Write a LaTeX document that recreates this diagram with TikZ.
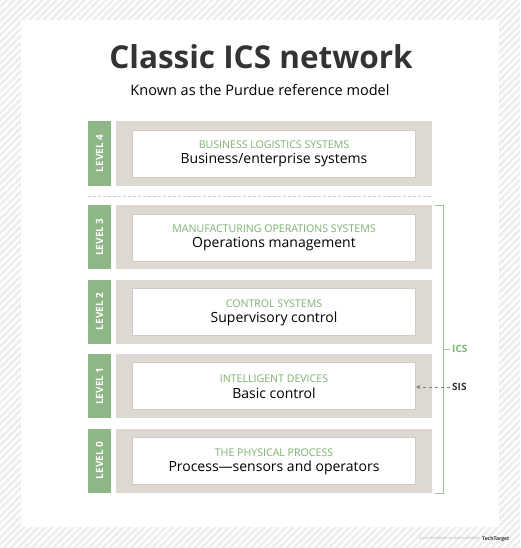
\documentclass[tikz,border=0pt]{standalone}
\usepackage{fontspec}
\setmainfont{Open Sans}
\usetikzlibrary{arrows.meta, patterns.meta}
\definecolor{tabgreen}{RGB}{141, 183, 133}
\definecolor{labelgreen}{RGB}{124, 178, 112}
\definecolor{bracketgreen}{RGB}{160, 198, 150}
\definecolor{boxgray}{RGB}{221, 217, 210}
\definecolor{rimgray}{RGB}{208, 203, 195}
\definecolor{inkgray}{RGB}{51, 51, 51}
\definecolor{hatchgray}{RGB}{238, 238, 238}

\begin{document}
\begin{tikzpicture}[
    x=1pt, y=-1pt,
    % Style for the green level tabs
    leveltab/.style={rectangle, fill=tabgreen, draw=none,
        minimum width=23pt, minimum height=64pt, inner sep=0pt},
    tabtext/.style={rotate=90, text=white, font=\fontsize{10}{12}\selectfont\bfseries},
    graybox/.style={rectangle, fill=boxgray, draw=none,
        minimum width=316pt, minimum height=64pt, inner sep=0pt},
    innerbox/.style={rectangle, fill=white, draw=rimgray, line width=0.8pt,
        minimum width=283pt, minimum height=47pt, inner sep=0pt},
    kind/.style={text=labelgreen, font=\fontsize{10.6}{12}\selectfont},
    role/.style={text=black, font=\fontsize{14}{16}\selectfont}
]

    % Background hatch and white panel
    \fill[hatchgray] (0,0) rectangle (520,548);
    \fill[pattern={Lines[angle=45, distance=5pt, line width=2pt]}, pattern color=white]
        (0,0) rectangle (520,548);
    \fill[white] (21,20) rectangle (499,527);
    \useasboundingbox (0,0) rectangle (520,548);

    % Title
    \node[text=inkgray, font=\fontsize{31.5}{36}\selectfont\bfseries] (title) at (261,57) {Classic ICS network};
    \node[text=black, font=\fontsize{14.5}{17}\selectfont] (subtitle) at (260,90) {Known as the Purdue reference model};

    % Level 4
    \node[leveltab] (tab4) at (99.5,153.5) {};
    \node[tabtext] at (tab4) {LEVEL 4};
    \node[graybox] (box4) at (274,153.5) {};
    \node[innerbox] (in4) at (274,153.5) {};
    \node[kind] (kind4) at (274,145) {BUSINESS LOGISTICS SYSTEMS};
    \node[role] (role4) at (274,160) {Business/enterprise systems};

    % Divider
    \coordinate (div left)  at (88,196);
    \coordinate (div right) at (432,196);
    \draw[rimgray, dash pattern=on 3pt off 2pt, line width=0.7pt] (div left) -- (div right);

    % Level 3
    \node[leveltab] (tab3) at (99.5,237) {};
    \node[tabtext] at (tab3) {LEVEL 3};
    \node[graybox] (box3) at (274,237) {};
    \node[innerbox] (in3) at (274,237.5) {};
    \node[kind] (kind3) at (274,229) {MANUFACTURING OPERATIONS SYSTEMS};
    \node[role] (role3) at (274,244) {Operations management};

    % Level 2
    \node[leveltab] (tab2) at (99.5,311.5) {};
    \node[tabtext] at (tab2) {LEVEL 2};
    \node[graybox] (box2) at (274,311.5) {};
    \node[innerbox] (in2) at (274,312) {};
    \node[kind] (kind2) at (274,304) {CONTROL SYSTEMS};
    \node[role] (role2) at (274,319) {Supervisory control};

    % Level 1
    \node[leveltab] (tab1) at (99.5,386) {};
    \node[tabtext] at (tab1) {LEVEL 1};
    \node[graybox] (box1) at (274,386) {};
    \node[innerbox] (in1) at (274,386) {};
    \node[kind] (kind1) at (274,378.5) {INTELLIGENT DEVICES};
    \node[role] (role1) at (274,393) {Basic control};

    % Level 0
    \node[leveltab] (tab0) at (99.5,460.5) {};
    \node[tabtext] at (tab0) {LEVEL 0};
    \node[graybox] (box0) at (274,460.5) {};
    \node[innerbox] (in0) at (274,460.5) {};
    \node[kind] (kind0) at (274,452.5) {THE PHYSICAL PROCESS};
    \node[role] (role0) at (274,467.5) {Process---sensors and operators};

    % ICS bracket
    \coordinate (ics top)    at (443,205);
    \coordinate (ics bottom) at (443,493);
    \coordinate (ics mid)    at (443,349);
    \draw[bracketgreen, line width=1pt] ([xshift=-8pt]ics top) -- (ics top) -- (ics bottom) -- ([xshift=-8pt]ics bottom);
    \node[anchor=west, text=labelgreen, font=\fontsize{10}{12}\selectfont\bfseries, inner sep=0pt] (ics) at (452,349) {ICS};
    \draw[bracketgreen, line width=1pt] (ics mid) -- ([xshift=-2pt]ics.west);

    % SIS pointer
    \node[anchor=west, text=inkgray, font=\fontsize{10}{12}\selectfont\bfseries, inner sep=0pt] (sis) at (452,387) {SIS};
    \draw[gray, dashed, line width=0.7pt, -{Stealth[length=4.5pt, width=4pt]}] ([xshift=-2pt]sis.west) -- (in1.east |- sis.west);

    % Footer
    \node[anchor=east, text=gray!70, font=\fontsize{3}{4}\selectfont, inner sep=0pt] (rights) at (480,538) {\textcopyright 2018 TECHTARGET. ALL RIGHTS RESERVED};
    \node[anchor=west, text=inkgray, font=\fontsize{5}{6}\selectfont\bfseries, inner sep=0pt] (brand) at (482,539) {TechTarget};

\end{tikzpicture}
\end{document}
